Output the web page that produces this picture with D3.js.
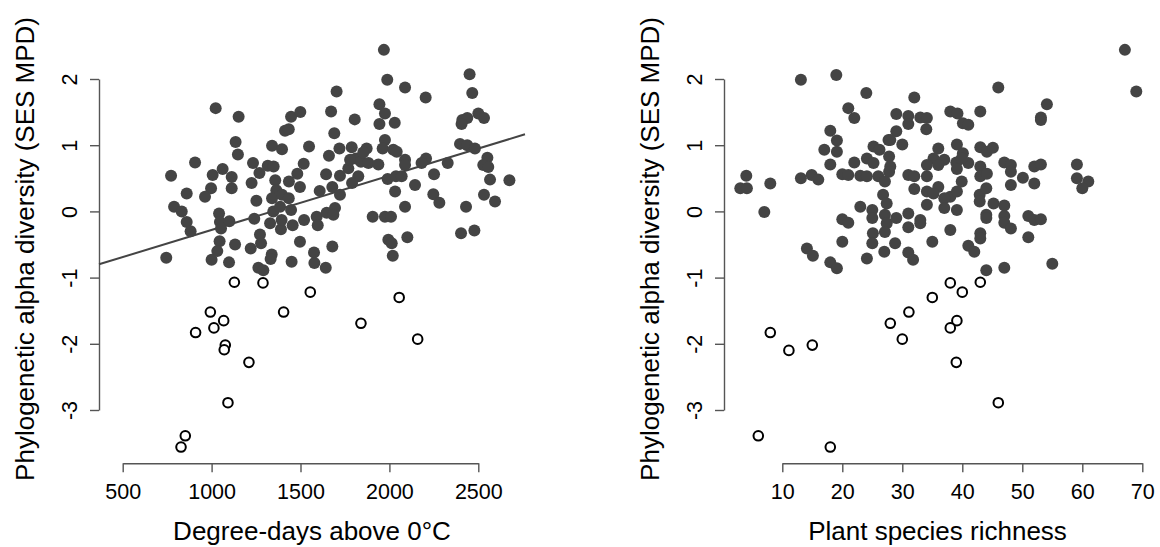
<!DOCTYPE html>
<html lang="en">
  <head>
    <meta charset="utf-8">
    <title>SES MPD scatter</title>
    <script type="text/javascript" src="https://cdn.jsdelivr.net/npm/d3@7"></script>
    <style>
      body { margin: 0; background: #fff; }
      text { font-family: "Liberation Sans", Arial, sans-serif; fill: #000; }
    </style>
  </head>
  <body>
    <script type="text/javascript">
      var width = 1160;
      var height = 547;

      // degree-days above 0°C vs SES MPD (filled = not significant)
      var degreeFilled = [
        [1969,2.44],[1988,1.99],[1703,1.81],[1023,1.56],[1152,1.43],[1944,1.62],[1975,1.48],[2030,1.34],[1944,1.32],[1672,1.51],
        [1805,1.39],[1447,1.43],[1499,1.50],[1413,1.22],[1434,1.24],[1690,1.18],[1135,1.05],[1148,0.86],[1340,0.99],[1396,0.94],
        [1548,0.98],[1975,1.08],[1962,0.95],[2022,0.93],[1719,0.95],[1788,0.97],[1872,0.95],[1660,0.84],[907,0.74],[772,0.54],
        [860,0.27],[1006,0.55],[1062,0.64],[1113,0.52],[1113,0.35],[997,0.35],[963,0.22],[1233,0.73],[1269,0.58],[1225,0.43],
        [1316,0.69],[1349,0.68],[1518,0.72],[1482,0.57],[1435,0.45],[1497,0.37],[1358,0.47],[1364,0.32],[1340,0.20],[1252,0.16],
        [1396,0.25],[1434,0.20],[1644,0.56],[1722,0.54],[1769,0.65],[1812,0.80],[1779,0.78],[1840,0.75],[1882,0.73],[1938,0.71],
        [1853,0.89],[1825,0.53],[1790,0.43],[1679,0.37],[1608,0.31],[1722,0.25],[1990,0.49],[2037,0.53],[2032,0.30],[789,0.07],
        [832,0.00],[860,-0.16],[882,-0.30],[745,-0.70],[1042,-0.03],[1047,-0.16],[1100,-0.15],[1053,-0.26],[1045,-0.45],[1032,-0.60],
        [1000,-0.73],[1098,-0.77],[1132,-0.50],[1220,-0.56],[1272,-0.35],[1278,-0.48],[1240,-0.11],[1329,-0.18],[1390,-0.27],[1456,-0.21],
        [1394,-0.13],[1347,0.00],[1385,0.07],[1447,0.02],[1520,-0.13],[1497,-0.46],[1591,-0.08],[1597,-0.21],[1647,-0.02],[1694,0.05],
        [1685,-0.05],[1906,-0.08],[1975,-0.08],[2009,-0.08],[1994,-0.43],[2013,-0.48],[2019,-0.67],[1338,-0.65],[1332,-0.72],[1450,-0.76],
        [1576,-0.62],[1578,-0.78],[1679,-0.53],[1642,-0.85],[1263,-0.85],[1291,-0.89],
        [2088,1.87],[2204,1.72],[2451,2.07],[2466,1.79],[2410,1.38],[2438,1.41],[2500,1.48],[2532,1.41],[2406,1.32],[2397,1.02],
        [2438,1.00],[2481,0.95],[2041,0.90],[2088,0.78],[2088,0.70],[2206,0.80],[2181,0.73],[2328,0.73],[2251,0.56],[2069,0.53],
        [2144,0.40],[2088,0.07],[2247,0.26],[2281,0.13],[2431,0.07],[2532,0.25],[2594,0.15],[2566,0.48],[2551,0.81],[2528,0.70],
        [2556,0.67],[2675,0.47],[2101,-0.39],[2403,-0.33],[2478,-0.29]
      ];
      // significantly clustered sites (open circles)
      var degreeOpen = [
        [1128,-1.07],[1289,-1.08],[1555,-1.22],[2055,-1.30],[993,-1.52],[1405,-1.52],[1068,-1.65],[1840,-1.69],[910,-1.83],
        [1013,-1.76],[1077,-2.02],[1071,-2.09],[1210,-2.28],[1092,-2.89],[852,-3.39],[828,-3.56],[2159,-1.93]
      ];
      // intercept, slope of the fitted line
      var degreeFit = [-1.10, 0.00082];

      // plant species richness vs SES MPD
      var richFilled = [
        [13.1,1.99],[19.0,2.06],[24.0,1.79],[21.0,1.56],[22.0,1.41],[18.0,1.22],[19.1,1.07],[19.1,0.90],[17.0,0.93],[18.0,0.71],
        [22.0,0.74],[3.0,0.35],[4.1,0.35],[4.0,0.54],[8.0,0.42],[7.0,-0.01],[13.1,0.50],[14.9,0.55],[16.0,0.48],[20.0,0.56],
        [21.0,0.55],[23.0,0.54],[24.1,0.53],[26.0,0.53],[27.1,0.45],[25.2,0.98],[26.2,0.93],[27.7,1.08],[29.0,1.21],[29.0,1.47],
        [24.1,0.80],[25.2,0.73],[27.8,0.83],[28.0,0.68],[27.8,0.60],[26.8,0.25],[27.4,0.12],[23.0,0.07],[25.0,0.02],[25.0,-0.10],
        [27.1,-0.05],[27.4,-0.18],[27.1,-0.31],[25.1,-0.33],[25.0,-0.48],[28.8,-0.48],[27.0,-0.61],[24.1,-0.71],[20.0,-0.12],[21.0,-0.17],
        [20.0,-0.46],[14.1,-0.56],[15.1,-0.67],[18.0,-0.77],[19.1,-0.86],
        [67.1,2.44],[69.0,1.81],[46.0,1.87],[32.0,1.72],[54.1,1.62],[53.1,1.42],[53.1,1.38],[31.0,1.44],[31.0,1.32],[33.0,1.42],
        [34.1,1.41],[34.0,1.24],[38.0,1.51],[39.2,1.48],[40.1,1.33],[41.0,1.31],[43.0,1.51],[28.0,1.08],[30.0,1.01],[36.0,0.95],
        [39.1,1.01],[43.0,0.97],[44.1,0.90],[45.1,0.96],[40.1,0.88],[35.2,0.80],[37.0,0.78],[34.1,0.70],[36.0,0.70],[39.0,0.74],
        [41.0,0.73],[39.9,0.80],[43.0,0.68],[39.1,0.64],[47.0,0.74],[48.1,0.70],[48.1,0.60],[50.1,0.51],[52.0,0.68],[53.1,0.71],
        [52.0,0.42],[48.1,0.40],[59.1,0.71],[59.1,0.50],[61.0,0.45],[60.0,0.35],[31.0,0.55],[32.0,0.53],[34.1,0.53],[43.0,0.53],
        [44.1,0.57],[32.0,0.34],[34.1,0.30],[36.0,0.37],[38.0,0.22],[39.9,0.45],[39.1,0.30],[42.9,0.25],[44.0,0.35],[42.9,0.15],
        [34.1,0.10],[35.2,0.27],[37.0,0.20],[37.0,0.05],[39.1,0.02],[45.2,0.12],[47.0,0.09],[47.0,-0.07],[47.0,-0.17],[48.1,-0.26],
        [51.0,-0.07],[52.0,-0.13],[53.1,-0.12],[51.0,-0.39],[44.0,-0.05],[44.0,-0.10],[31.0,-0.03],[33.0,-0.13],[31.0,-0.24],[33.0,-0.18],
        [29.0,-0.10],[38.0,-0.28],[43.0,-0.33],[43.0,-0.41],[41.0,-0.52],[42.0,-0.61],[35.0,-0.46],[31.0,-0.62],[31.8,-0.73],[44.0,-0.89],
        [47.0,-0.85],[55.0,-0.79]
      ];
      var richOpen = [
        [8.0,-1.83],[11.1,-2.10],[15.0,-2.02],[6.0,-3.39],[18.0,-3.56],[28.0,-1.69],[30.0,-1.93],[31.1,-1.52],[35.0,-1.30],
        [38.0,-1.08],[40.0,-1.22],[43.0,-1.07],[39.1,-1.65],[38.0,-1.76],[39.0,-2.28],[46.0,-2.89]
      ];

      var yTicks = [-3, -2, -1, 0, 1, 2];
      var degreeTicks = [500, 1000, 1500, 2000, 2500];
      var richTicks = [10, 20, 30, 40, 50, 60, 70];
      var yTitle = "Phylogenetic alpha diversity (SES MPD)";

      // plain labels with an ASCII hyphen for negatives, as R prints them
      function plain(d) { return String(d); }

      var svg = d3.select("body")
        .append("svg")
        .attr("width", width)
        .attr("height", height);

      var yScale = d3.scaleLinear().domain([-3, 2]).range([410, 79]);
      var plotTop = 34.6, plotBottom = 463.3;

      function panel(cfg) {
        var g = svg.append("g");
        var x = cfg.x;

        // x axis, spanning first to last tick like R
        var xAxis = g.append("g")
          .attr("transform", "translate(0," + plotBottom + ")")
          .call(d3.axisBottom(x).tickValues(cfg.ticks).tickSize(9).tickSizeOuter(0).tickFormat(plain));
        xAxis.selectAll("text").attr("y", 36).attr("dy", 0).style("font-size", "21.5px");

        var yAxis = g.append("g")
          .attr("transform", "translate(" + cfg.left + ",0)")
          .call(d3.axisLeft(yScale).tickValues(yTicks).tickSize(9).tickSizeOuter(0).tickFormat(plain));
        yAxis.selectAll("text")
          .attr("transform", "rotate(-90)")
          .attr("x", 0).attr("y", -22).attr("dy", 0)
          .attr("text-anchor", "middle")
          .style("font-size", "21.5px");

        g.selectAll(".domain, .tick line").attr("stroke", "#555").attr("stroke-width", 1.4);
        g.selectAll("g text").attr("fill", "#000").attr("font-family", null);

        // axis titles
        g.append("text")
          .attr("x", (cfg.left + cfg.right) / 2)
          .attr("y", 540)
          .attr("text-anchor", "middle")
          .style("font-size", "26px")
          .text(cfg.title);
        g.append("text")
          .attr("transform", "translate(" + (cfg.left - 65) + "," + ((plotTop + plotBottom) / 2) + ") rotate(-90)")
          .attr("text-anchor", "middle")
          .style("font-size", "26px")
          .text(yTitle);

        if (cfg.fit) {
          var x0 = x.invert(cfg.left), x1 = x.invert(cfg.right);
          g.append("line")
            .attr("x1", x(x0)).attr("y1", yScale(cfg.fit[0] + cfg.fit[1] * x0))
            .attr("x2", x(x1)).attr("y2", yScale(cfg.fit[0] + cfg.fit[1] * x1))
            .attr("stroke", "#444")
            .attr("stroke-width", 2);
        }

        g.selectAll("circle.filled")
          .data(cfg.filled)
          .enter()
          .append("circle")
          .attr("class", "filled")
          .attr("cx", function(d) { return x(d[0]); })
          .attr("cy", function(d) { return yScale(d[1]); })
          .attr("r", 6)
          .attr("fill", "#444");

        g.selectAll("circle.open")
          .data(cfg.open)
          .enter()
          .append("circle")
          .attr("class", "open")
          .attr("cx", function(d) { return x(d[0]); })
          .attr("cy", function(d) { return yScale(d[1]); })
          .attr("r", 4.8)
          .attr("fill", "#fff")
          .attr("stroke", "#000")
          .attr("stroke-width", 2);
      }

      panel({
        x: d3.scaleLinear().domain([500, 2500]).range([122.7, 478.3]),
        ticks: degreeTicks,
        left: 99, right: 525,
        title: "Degree-days above 0°C",
        filled: degreeFilled,
        open: degreeOpen,
        fit: degreeFit
      });

      panel({
        x: d3.scaleLinear().domain([10, 70]).range([782.3, 1142.3]),
        ticks: richTicks,
        left: 724, right: 1151,
        title: "Plant species richness",
        filled: richFilled,
        open: richOpen,
        fit: null
      });
    </script>
  </body>
</html>
